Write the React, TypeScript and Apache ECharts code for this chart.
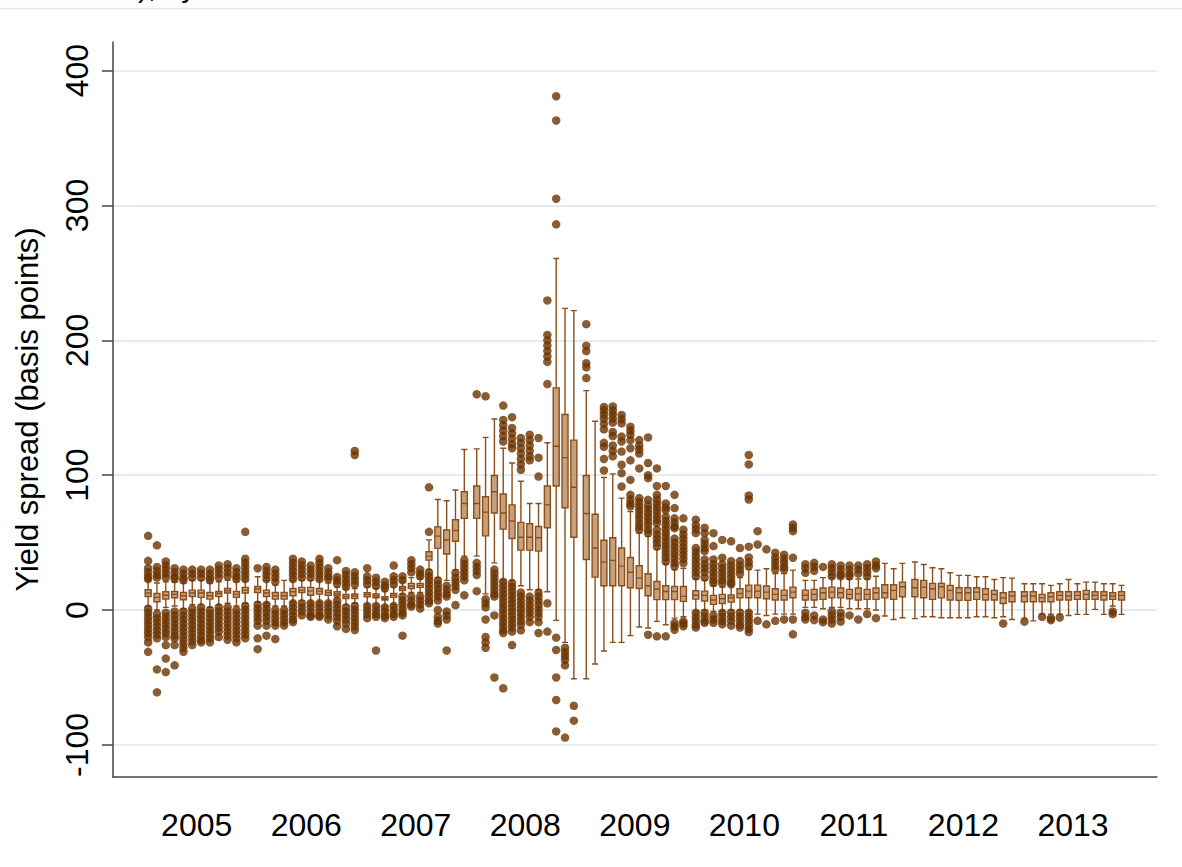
import React, { useEffect, useRef } from "react";
import * as echarts from "echarts";

// Monthly distribution of yield spreads (basis points), grouped by year.
const YEARS = [2005, 2006, 2007, 2008, 2009, 2010, 2011, 2012, 2013];
const Y_TICKS = [-100, 0, 100, 200, 300, 400];

// Each month: [lower whisker, Q1, median, Q3, upper whisker]
const boxes2005 = [
  [3, 10, 12.6, 15, 22], [0, 6.2, 9.4, 12.3, 20], [2, 8.1, 11, 13.6, 21], [3, 9.1, 11.6, 13.8, 21],
  [1, 7.6, 10.6, 13, 20], [4, 10, 12.6, 14.8, 22], [4, 9.4, 12.6, 14.8, 22], [2, 8.1, 10.6, 13, 20],
  [4, 10, 12.3, 13.8, 21], [5, 12.6, 14.3, 16, 22], [3, 9.4, 11.6, 13.8, 21], [5, 12.6, 14.8, 16.8, 22],
];
const boxes2006 = [
  [6, 13, 15.6, 17.5, 24.7], [5, 10, 12.6, 14.8, 22], [3, 8.1, 10.6, 13, 18.5], [3, 8.1, 10.6, 13, 22],
  [6, 10.6, 13.6, 16, 22], [7, 13, 14.8, 16.8, 22], [6, 11, 14, 16.8, 22], [6, 11.8, 14, 16, 22],
  [6, 11, 13, 14.8, 20], [9, 10.4, 11.9, 13.6, 17], [4, 8.5, 9.9, 11.5, 16], [5, 8.6, 10.4, 11.9, 16],
];
const boxes2007 = [
  [4, 9.9, 11.4, 12.8, 17], [4, 9.1, 10.4, 11.9, 16], [3, 7.4, 8.6, 9.9, 14], [4, 9.4, 10.9, 12.3, 17],
  [12, 14.5, 16, 17.5, 21], [13, 16, 17.8, 19.8, 24], [13, 16.8, 18.3, 19.8, 23], [30, 37, 40, 43.2, 52],
  [24, 45.7, 54.8, 61.7, 82], [22, 41.5, 51.9, 59.3, 81], [30, 51, 59, 67, 89], [40, 68, 79, 87.7, 119],
];
const boxes2008 = [
  [40, 68, 79, 92, 119.5], [12, 55, 72.6, 84, 128], [35, 72, 87.7, 99.8, 141.7], [22, 60, 72, 86, 120],
  [22, 53, 66, 78, 109], [18, 44.4, 54, 65, 95.5], [15, 44.4, 54, 64, 79], [15, 43.7, 53.6, 62, 79],
  [13.6, 61, 78, 92, 124], [-7.7, 92, 121.5, 164.7, 260.7], [-24, 75.8, 113, 145, 223.7], [-51, 54, 91, 126, 222],
];
const boxes2009 = [
  [-51, 37.5, 71.6, 99.8, 162.7], [-40, 24.4, 46, 71, 140], [-30.4, 18, 35.5, 51.8, 98.3], [-24, 18, 36.8, 53.6, 101],
  [-24, 18, 32.6, 46, 83], [-19, 16.5, 28, 39, 73], [-12.6, 16, 23.7, 32.8, 57], [-13.3, 10.6, 18, 26.9, 54.6],
  [-8.4, 7.7, 15.6, 21.2, 45], [-10.9, 7.7, 13.8, 18, 34], [-6, 7.7, 13.8, 17.5, 30], [-5, 6.4, 10.1, 17.5, 31],
];
const boxes2010 = [
  [-1, 8.1, 11, 14.3, 23], [0, 6.7, 10.9, 14, 22], [-1, 4.2, 7.4, 10.9, 18], [-1, 4.9, 8.4, 11.6, 17],
  [0, 5.9, 9.1, 11.1, 18], [0, 9.1, 12.3, 15.8, 24], [-1, 9.1, 14, 18.5, 30], [-3, 9.1, 14, 18.5, 29.6],
  [-4, 8.4, 13.3, 17.8, 30.6], [-3, 7.4, 11.6, 15.8, 27], [-3, 7.4, 10.9, 14.8, 27], [-3, 9.1, 13.3, 17, 29.6],
];
const boxes2011 = [
  [2, 7.4, 11, 14.8, 22], [2, 7.4, 11.6, 15.3, 22], [1, 7.9, 12.8, 16.3, 24], [2, 9, 13.3, 17, 24],
  [2, 9, 12.8, 16.3, 24], [1, 8.4, 11.6, 15.3, 23], [1, 7.4, 12, 16.3, 23], [1, 7.9, 11.6, 15.3, 23],
  [0, 7.9, 12.8, 16.3, 25], [-4.4, 9, 12.8, 18.8, 34.6], [-7, 7.9, 14.6, 18.8, 30.6], [-5.7, 9.9, 17.3, 20.7, 34.6],
];
const boxes2012 = [
  [-6.4, 9.9, 16.5, 22.7, 35.6], [-5, 9.1, 17, 22, 33.8], [-5, 7.9, 15.8, 19.8, 31.4], [-5.7, 9, 17.3, 19.8, 30.6],
  [-5.7, 7.4, 14.6, 18.3, 27.7], [-5.7, 7.2, 12.8, 16.5, 25.7], [-5.7, 7.2, 12.8, 16.5, 25.7], [-5, 7.9, 13.3, 16.5, 24.7],
  [-5, 7.4, 11.6, 15.8, 24.7], [-5.7, 7.4, 11.6, 14.6, 22.7], [-5, 4.9, 9, 12.8, 24], [-7, 6.2, 10.4, 13.6, 23.7],
];
const boxes2013 = [
  [-6, 6.2, 10.4, 13.6, 19.5], [-8, 6.2, 10.4, 13.6, 19.5], [-3, 6.2, 9, 11.6, 19.5], [-3, 6.2, 9.9, 12.8, 18.3],
  [-3, 7.4, 10.9, 13.6, 19.5], [-4, 7.4, 10.4, 13.6, 22.7], [-3.2, 7.9, 10.9, 13.6, 19.5], [-3.2, 7.9, 11.6, 14.6, 20.7],
  [0.5, 7.9, 10.9, 13.6, 20.7], [-3.2, 7.4, 10.9, 13.6, 19.5], [3, 7.9, 10.4, 12.8, 19.5], [-3.2, 7.4, 10.9, 13.6, 18.3],
];

// Outside values per month
const outliers2005 = [
  [55, 36.5, 31, 28, 25, 23, 1, -2, -5, -8, -11, -14, -17, -20, -24, -31],
  [48, 32, 29, 26, 24, -3, -6, -9, -12, -15, -18, -21, -44, -61],
  [36, 33, 30, 27, 24, -2, -5, -8, -11, -14, -17, -20, -26, -36, -46],
  [31, 28, 25, 23, -1, -4, -7, -10, -13, -16, -19, -21, -26, -41],
  [30, 27, 24, 22, -1, -4, -7, -10, -13, -16, -19, -22, -25, -28, -31],
  [30, 27, 24, 1, -2, -5, -8, -11, -14, -17, -20, -23, -26],
  [30, 27, 24, 2, -1, -4, -7, -10, -13, -16, -19, -22, -24],
  [30, 27, 24, 22, 0, -3, -6, -9, -12, -15, -18, -21, -24],
  [33, 30, 27, 24, 2, -1, -4, -7, -10, -13, -16, -20],
  [34, 31, 28, 25, 2, -1, -4, -7, -10, -13, -16, -19, -22],
  [31, 28, 25, 23, 0, -3, -6, -9, -12, -15, -18, -21, -24],
  [58, 38, 35, 32, 29, 26, 23, 3, 0, -3, -6, -9, -12, -15, -18, -21],
];
const outliers2006 = [
  [31, 4, 1, -2, -5, -8, -11.6, -21, -29],
  [32, 29, 26, 23, 4, 1, -2, -5, -8, -11.6, -19],
  [30, 27, 24, 21, 0, -3, -6, -9, -11.6, -21.5],
  [0, -3, -6, -9, -11.6],
  [38, 35, 32, 29, 26, 23, 5, 2, -1, -4, -7, -9],
  [36, 33, 30, 27, 24, 5, 2, -1, -4],
  [33, 30, 27, 24, 5, 2, -1, -4, -5],
  [38, 35, 32, 29, 26, 23, 5, 2, -1, -4, -5],
  [31, 28, 25, 23, 5, 2, -1, -4, -7],
  [37, 24.5, 22, 19.5, 7, 4, 1, -2, -5, -8, -12],
  [29, 26, 23, 20, 17, 2, -1, -4, -7, -10, -14],
  [118, 115, 28, 25, 22, 19, 3, 0, -3, -6, -9, -12, -14.8],
];
const outliers2007 = [
  [31, 25, 22, 19, 3, 0, -3, -6],
  [24, 21, 18, 3, 0, -3, -5, -30],
  [21, 18, 16, 2, -1, -4, -6],
  [33, 25, 22, 19, 3, 0, -3, -5],
  [25, 22, 10, 7, 4, 1, -2, -4, -19],
  [37, 34, 31, 28, 10, 7, 4, 2.5],
  [30, 27, 25, 10, 7, 4, 1],
  [91, 58, 28, 25, 22, 19, 16, 13, 10, 7, 5],
  [22, 19, 16, 13, 10, 7, 0, -5, -8, -10],
  [18, 15, 12, 10, -1, -4, -7, -30],
  [27.6, 24, 21, 18, 15, 3.7],
  [37, 34, 31, 28, 25, 22, 11],
];
const outliers2008 = [
  [160, 35, 32, 29, 26, 14],
  [158.5, 8, 5, 2, -7, -20, -24, -28],
  [30, 27, 24, 21, 18, 15, 12, 10, -4, -50],
  [151.6, 141, 137, 133, 129, 125, 21, 18, 15, 12, 9, 6, 3, 0, -3, -6, -9, -12, -15, -17, -58],
  [143, 135, 131, 127, 123, 120, 20, 17, 14, 11, 8, 5, 2, -1, -4, -7, -10, -13, -16, -26],
  [127.6, 124, 120, 116, 112, 108, 104, 13, 10, 7, 4, 1, -2, -5, -8, -11, -15],
  [130, 126, 122, 118, 114, 111, 10, 7, 4, 1, -2, -5, -9],
  [127.6, 113, 99, 13, 10, 7, 4, 1, -2, -5, -9, -17],
  [229.6, 204, 200, 196, 192, 188, 184, 167.6, 5, -16],
  [381, 363, 305, 286, -20.5, -29.6, -50, -66.7, -90],
  [-28, -31, -34, -37, -41, -94.6],
  [-71, -82],
];
const outliers2009 = [
  [212, 196, 192, 183, 180, 172],
  [],
  [150.6, 148, 145, 142, 138, 134, 124, 121, 112, 103.5],
  [151, 148, 145, 142, 139, 132, 129, 122, 118, 114],
  [144.7, 141.5, 138.5, 128.6, 125, 117.5, 107.7, 101.5, 91.6],
  [136, 133, 130, 126, 120, 111, 96.5, 85.4, 82, 79, 76.8],
  [126, 122, 119, 116, 105, 83, 80, 77, 74, 71, 68, 65, 62, 59.5],
  [128, 109, 100, 97.8, 81.7, 78, 75, 72, 69, 66, 63, 59.5, 57, -18.3],
  [105, 92, 85.4, 82, 79, 76, 73, 70, 67, 64.4, 59.5, 56, 53, 50, 47, -19.5],
  [92, 79, 76, 74, 69, 66, 63, 60, 57, 54, 51, 48, 45, 42, 39, 36, -19.5],
  [85.4, 75.6, 68, 65, 62, 60.7, 53, 50, 47, 44, 41, 38, 35, 32.3, -9.6, -12, -14.6],
  [68, 59.5, 56, 53, 50, 47, 44, 41, 38, 34.8, -8.4, -10, -12],
];
const outliers2010 = [
  [67, 63, 60, 57, 46, 43, 40, 37, 34, 31, 28, 25, -2, -5, -8, -11, -13],
  [61, 57, 52, 49, 46, 43.7, 37.5, 34, 31, 28, 24, -2, -5, -8, -9.5],
  [57, 47.4, 37.5, 34, 31, 28, 25, 22, 20, -4, -7, -9.5],
  [52, 38.8, 33.8, 31, 28, 25, 22, 19.5, -2, -5, -8, -10.5],
  [51, 36.3, 33, 30, 27, 24, 21, 19, -2, -5, -8, -11.6],
  [46, 36.3, 33, 30, 27, -2, -5, -8, -11, -13],
  [115, 108, 85, 82, 47, 39, 35.5, 32.6, -2, -5, -8, -11, -14, -16.3],
  [58.5, 48.6, -8],
  [45, -10.6],
  [42.5, 39, 36, 33, 30, -8],
  [41, 38, 35, 32, 30, -7],
  [63.5, 61, 58.5, 38.8, -7, -18],
];
const outliers2011 = [
  [34, 31, 27.6, -2, -5, -7],
  [35, 32, 29, -4, -7.5],
  [32, -7, -9],
  [34, 31, 28, 25, -1, -4, -7, -10],
  [33, 30, 27, 25, -2, -5, -8.6],
  [33, 30, 27, 25, -4],
  [33, 30, 27, -7],
  [34, 31, 28, 25, -3],
  [36, 33, 31, -6],
  [], [], [],
];
const outliers2012 = [[], [], [], [], [], [], [], [], [], [], [-10], []];
const outliers2013 = [[-8.6], [], [-5], [-6, -7.5], [-5.5], [], [], [], [], [], [-1, -3], []];

const BOXES = [boxes2005, boxes2006, boxes2007, boxes2008, boxes2009, boxes2010, boxes2011, boxes2012, boxes2013];
const OUTLIERS = [outliers2005, outliers2006, outliers2007, outliers2008, outliers2009, outliers2010, outliers2011, outliers2012, outliers2013];

// Layout of the month slots inside each year group (in year units)
const MONTH_STEP = 0.0806;
const X_MIN = 2004.236;
const X_MAX = 2013.767;
const Y_MIN = -123.8;
const Y_MAX = 421.2;

const FONT = "'Liberation Sans', Arial, Helvetica, sans-serif";
const DOT = "#6b3300";
const BOX_FILL = "#c8a17a";
const BOX_EDGE = "#8a4e1c";

function monthX(year: number, m: number) {
  return year + (m - 5.5) * MONTH_STEP;
}

export default function App() {
  const ref = useRef<HTMLDivElement>(null);

  useEffect(() => {
    if (!ref.current) return;
    const chart = echarts.init(ref.current, null, { renderer: "svg" });

    const boxData: number[][] = [];
    const dotData: number[][] = [];
    YEARS.forEach((year, yi) => {
      BOXES[yi].forEach((b, m) => {
        boxData.push([monthX(year, m), ...b]);
        OUTLIERS[yi][m].forEach((v) => dotData.push([monthX(year, m), v]));
      });
    });

    chart.setOption({
      animation: false,
      backgroundColor: "#ffffff",
      grid: { left: 113, right: 25, top: 42, bottom: 90, containLabel: false, outerBoundsMode: "none" },
      xAxis: {
        type: "value",
        min: X_MIN,
        max: X_MAX,
        axisLine: { show: true, onZero: false, lineStyle: { color: "#444", width: 1.5 } },
        axisTick: { show: false },
        splitLine: { show: false },
        axisLabel: {
          customValues: YEARS,
          formatter: (v: number) => String(Math.round(v)),
          fontSize: 32,
          color: "#000",
          fontFamily: FONT,
          margin: 32,
        },
      },
      yAxis: {
        type: "value",
        min: Y_MIN,
        max: Y_MAX,
        name: "Yield spread (basis points)",
        nameLocation: "middle",
        nameRotate: 90,
        nameGap: 70,
        nameTextStyle: { fontSize: 31, color: "#000", fontFamily: FONT },
        axisLine: { show: true, lineStyle: { color: "#444", width: 1.5 } },
        axisTick: { show: true, length: 11, customValues: Y_TICKS, lineStyle: { color: "#444", width: 1.5 } },
        axisLabel: {
          customValues: Y_TICKS,
          rotate: 90,
          fontSize: 32,
          color: "#000",
          fontFamily: FONT,
          margin: 20,
          formatter: (v: number) => String(Math.round(v)),
        },
        splitLine: { show: true, lineStyle: { color: "#e3ecee", width: 2 } },
      },
      graphic: [
        {
          type: "line",
          shape: { x1: 0, y1: 8.5, x2: 1182, y2: 8.5 },
          style: { stroke: "#e4e8ea", lineWidth: 1.5 },
          silent: true,
        },
        {
          type: "text",
          x: 138,
          y: 1,
          style: { text: "), by", fontSize: 30, fontFamily: FONT, fill: "#000", verticalAlign: "bottom" },
          silent: true,
        },
      ],
      series: [
        {
          type: "boxplot",
          data: boxData,
          boxWidth: [6, 6],
          z: 2,
          itemStyle: { color: BOX_FILL, borderColor: BOX_EDGE, borderWidth: 1.4 },
          emphasis: { disabled: true },
          silent: true,
        },
        {
          type: "scatter",
          data: dotData,
          symbol: "circle",
          symbolSize: 8.5,
          z: 3,
          itemStyle: { color: DOT },
          emphasis: { disabled: true },
          silent: true,
        },
      ],
    });

    return () => chart.dispose();
  }, []);

  return (
    <div
      ref={ref}
      style={{ position: "absolute", left: 0, top: 0, width: 1182, height: 867 }}
    />
  );
}
